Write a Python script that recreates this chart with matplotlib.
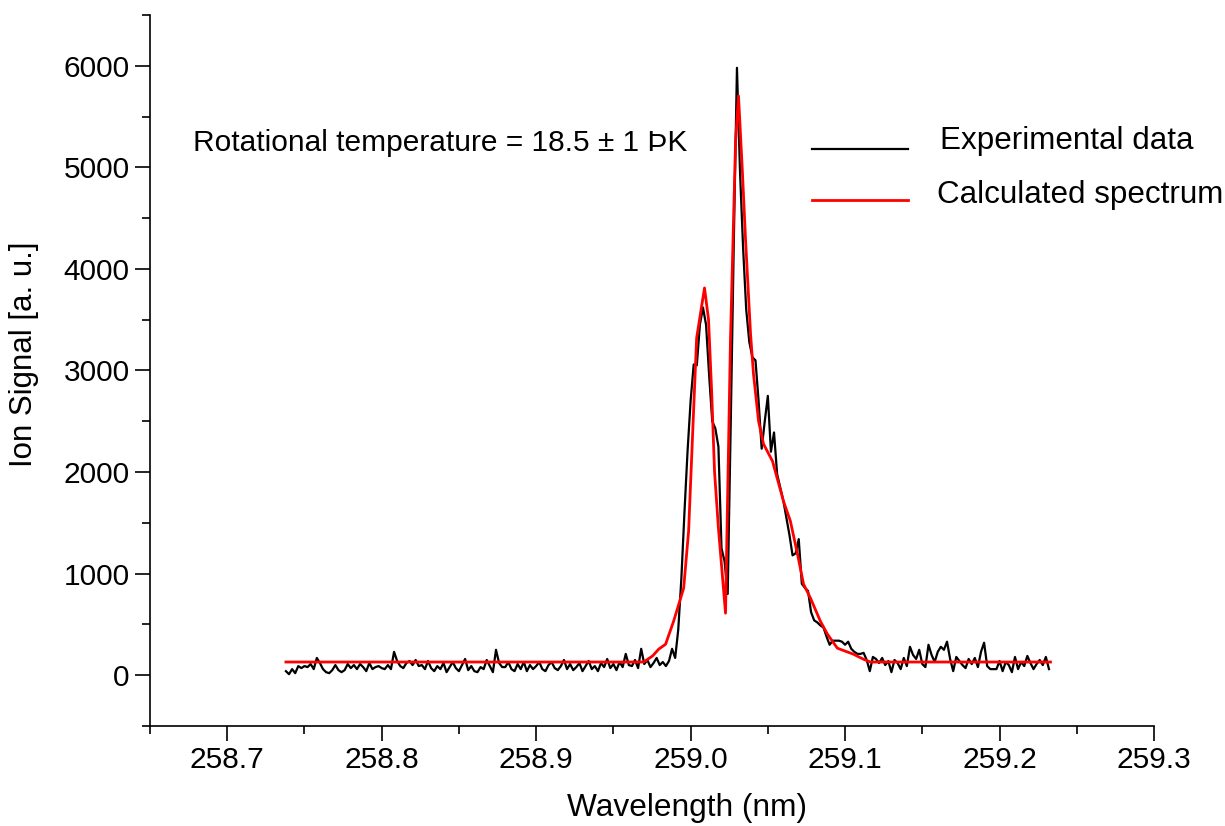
import numpy as np
import matplotlib
matplotlib.use("Agg")
import matplotlib.pyplot as plt
from matplotlib.ticker import MultipleLocator
from matplotlib.lines import Line2D

plt.rcParams['font.family'] = ['Liberation Sans', 'DejaVu Sans']

# ---- Experimental data (step 0.002 nm from 258.738 to 259.232) ----
exp_start = 258.738
exp_stop = 259.232
exp_left = [40, 10, 60, 20, 90, 70, 90, 80, 110, 60, 170, 120, 60, 30, 20, 50, 100, 50, 30, 50,
            110, 70, 100, 60, 110, 80, 40, 120, 60, 80, 90, 70, 60, 100, 60, 230, 140, 90, 70, 120,
            140, 100, 150, 90, 100, 60, 140, 70, 40, 90, 60, 120, 30, 80, 130, 70, 40, 100, 160, 50,
            90, 40, 30, 80, 60, 150, 90, 30, 250, 120, 80, 80, 130, 60, 40, 110, 60, 130, 40, 100,
            60, 90, 130, 60, 40, 100, 130, 70, 50, 90, 150, 60, 110, 50, 80, 120, 40, 90, 140, 60,
            90, 40, 120, 80, 160, 70, 110, 50, 130, 80, 210, 100]
exp_peak = [90, 150, 70, 260, 110, 150, 80, 120, 170, 100, 130, 90, 140, 260, 170, 450,
            950, 1600, 2200, 2700, 3060, 3050, 3450, 3620, 3450, 2950, 2500, 2430, 2250,
            1250, 1120, 800, 2500, 4300, 5980, 4950, 4200, 3600, 3280, 3130, 3100, 2700,
            2230, 2500, 2750, 2200, 2390, 1980, 1850, 1720, 1550, 1380, 1180, 1200, 1340,
            900, 860, 830, 620, 540, 520, 490, 470, 380, 300, 340, 340, 340, 330, 300, 330,
            260, 230, 210, 210, 220, 150, 40, 180]
exp_right = [160, 120, 170, 100, 140, 30, 150, 120, 60, 170, 90, 280, 200, 160, 250, 110, 80, 300, 200, 130,
             230, 280, 250, 330, 160, 40, 180, 140, 100, 70, 160, 110, 170, 80, 230, 320, 90, 60, 60, 60,
             140, 40, 130, 100, 30, 180, 60, 130, 90, 190, 120, 60, 110, 150, 100, 180, 60]
exp_signal = exp_left + exp_peak + exp_right
exp_wl = np.linspace(exp_start, exp_stop, len(exp_signal))

# ---- Calculated spectrum ----
calc_wl = [258.738, 258.9696, 258.9754, 258.9793, 258.9838, 258.9890, 258.9955, 258.9987,
           259.0013, 259.0039, 259.0090, 259.0116, 259.0136, 259.0155, 259.0180, 259.0226,
           259.0258, 259.0291, 259.0310, 259.0336, 259.0356, 259.0388, 259.0407, 259.0440,
           259.0472, 259.0530, 259.0601, 259.0646, 259.0692, 259.0731, 259.0776, 259.0840,
           259.0886, 259.0950, 259.1054, 259.1118, 259.1164, 259.233]
calc_signal = [130, 130, 190, 256, 305, 532, 857, 1419,
               2374, 3320, 3813, 3500, 2800, 2000, 1448, 611,
               3300, 5260, 5704, 4935, 4276, 3360, 2966, 2500,
               2276, 2108, 1714, 1517, 1192, 897, 759, 532,
               404, 266, 207, 158, 130, 130]

W, H = 1225, 826
fig = plt.figure(figsize=(W / 100, H / 100), dpi=100)
ax = fig.add_axes([150 / W, 1 - 726 / H, (1154 - 150) / W, (726 - 15) / H])

ax.plot(exp_wl, exp_signal, color='black', lw=1.6, zorder=2)
ax.plot(calc_wl, calc_signal, color='#ff0000', lw=2.0, zorder=3)

ax.set_xlim(258.65, 259.3)
ax.set_ylim(-500, 6500)
ax.xaxis.set_major_locator(MultipleLocator(0.1))
ax.xaxis.set_minor_locator(MultipleLocator(0.05))
ax.yaxis.set_major_locator(MultipleLocator(1000))
ax.yaxis.set_minor_locator(MultipleLocator(500))
ax.xaxis.set_major_formatter(matplotlib.ticker.FormatStrFormatter('%.1f'))

for s in ['top', 'right']:
    ax.spines[s].set_visible(False)
for s in ['left', 'bottom']:
    ax.spines[s].set_linewidth(1.2)

ax.tick_params(which='major', direction='out', length=10.5, width=1.2, labelsize=21.5, pad=4)
ax.tick_params(which='minor', direction='out', length=5.5, width=1.2)

fig.text(687 / W, 1 - 808 / H, 'Wavelength (nm)', ha='center', va='center', fontsize=22.8)
fig.text(24 / W, 1 - 354 / H, 'Ion Signal [a. u.]', ha='center', va='center', rotation=90, fontsize=22.5)
fig.text(193 / W, 1 - 143 / H, 'Rotational temperature = 18.5 \u00b1 1 \u00deK', ha='left', va='center', fontsize=21.5)

# legend (drawn manually)
fig.add_artist(Line2D([812 / W, 908 / W], [1 - 149 / H, 1 - 149 / H], color='black', lw=1.6))
fig.add_artist(Line2D([812 / W, 908 / W], [1 - 200 / H, 1 - 200 / H], color='#ff0000', lw=2.0))
fig.text(940 / W, 1 - 141 / H, 'Experimental data', ha='left', va='center', fontsize=22.6)
fig.text(937 / W, 1 - 195 / H, 'Calculated spectrum', ha='left', va='center', fontsize=22.6)

fig.savefig('out.png', dpi=100)
